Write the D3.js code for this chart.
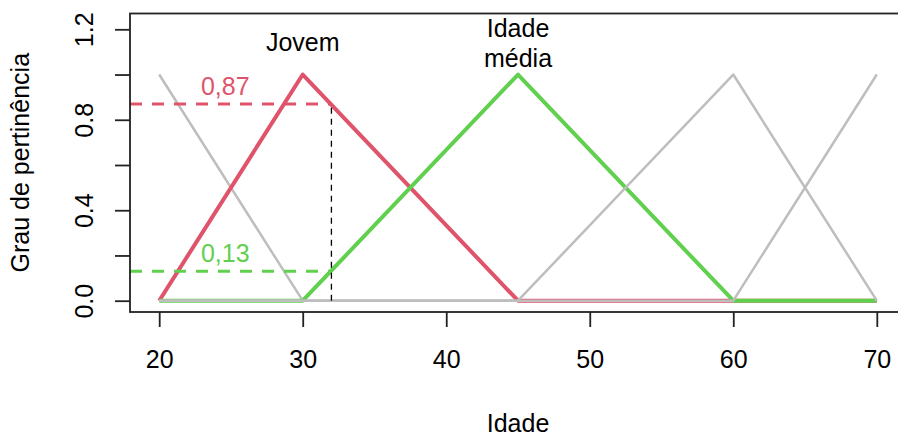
<!DOCTYPE html>
<html>
<head>
<meta charset="utf-8">
<script src="https://cdn.jsdelivr.net/npm/d3@7"></script>
<style>
  body { margin: 0; background: #fff; }
  svg { display: block; font-family: "Liberation Sans", Arial, sans-serif; }
</style>
</head>
<body>
<div id="chart"></div>
<script>
// membership functions sampled at the break points
const idade = [20, 30, 45, 60, 70];
const crianca = [1, 0, 0, 0, 0];
const jovem = [0, 1, 0, 0, 0];
const idadeMedia = [0, 0, 1, 0, 0];
const adulto = [0, 0, 0, 1, 0];
const idoso = [0, 0, 0, 0, 1];

const xTicks = [20, 30, 40, 50, 60, 70];
const yTicks = [0, 0.2, 0.4, 0.6, 0.8, 1.0, 1.2];
const yLabelTicks = [0, 0.4, 0.8, 1.2];

const idadeObservada = 32;
const grauJovem = 0.87;
const grauMedia = 0.13;

const WIDTH = 898;
const HEIGHT = 438;
const BOX_LEFT = 130;
const BOX_TOP = 13.5;
const BOX_BOTTOM = 312;
const BOX_RIGHT = 906;

const RED = '#DF536B';
const GREEN = '#61D04F';
const GRAY = '#BEBEBE';
const FONT_SIZE = 25;

const svg = d3.select('#chart').append('svg')
    .attr('width', WIDTH)
    .attr('height', HEIGHT);

const x = d3.scaleLinear()
    .domain([18, 72])
    .range([130.5, 905.5]);

const y = d3.scaleLinear()
    .domain([0, 1.2])
    .range([300.7, 29.3]);

svg.append('clipPath')
    .attr('id', 'plot-clip')
    .append('rect')
        .attr('x', BOX_LEFT)
        .attr('y', BOX_TOP)
        .attr('width', BOX_RIGHT - BOX_LEFT)
        .attr('height', BOX_BOTTOM - BOX_TOP);

const plot = svg.append('g').attr('clip-path', 'url(#plot-clip)');

const line = d3.line()
    .x(d => x(d[0]))
    .y(d => y(d[1]));

const series = [
    { values: crianca, color: GRAY, width: 2.5 },
    { values: jovem, color: RED, width: 4 },
    { values: idadeMedia, color: GREEN, width: 4 },
    { values: adulto, color: GRAY, width: 2.5 },
    { values: idoso, color: GRAY, width: 2.5 }
];

plot.selectAll('.serie')
    .data(series)
    .join('path')
        .attr('class', 'serie')
        .attr('fill', 'none')
        .attr('stroke', d => d.color)
        .attr('stroke-width', d => d.width)
        .attr('stroke-linejoin', 'round')
        .attr('d', d => line(idade.map((a, i) => [a, d.values[i]])));

// dashed guides for the observed age
const guides = [
    { value: grauJovem, color: RED, label: '0,87' },
    { value: grauMedia, color: GREEN, label: '0,13' }
];

plot.selectAll('.guide')
    .data(guides)
    .join('line')
        .attr('class', 'guide')
        .attr('x1', BOX_LEFT)
        .attr('x2', x(idadeObservada))
        .attr('y1', d => y(d.value))
        .attr('y2', d => y(d.value))
        .attr('stroke', d => d.color)
        .attr('stroke-width', 3)
        .attr('stroke-dasharray', '12,10');

plot.append('line')
    .attr('x1', x(idadeObservada))
    .attr('x2', x(idadeObservada))
    .attr('y1', y(0))
    .attr('y2', y(grauJovem))
    .attr('stroke', '#000')
    .attr('stroke-width', 1.3)
    .attr('stroke-dasharray', '6,5');

svg.selectAll('.guide-label')
    .data(guides)
    .join('text')
        .attr('class', 'guide-label')
        .attr('x', x(24.6))
        .attr('y', d => y(d.value) - 9)
        .attr('text-anchor', 'middle')
        .attr('font-size', FONT_SIZE)
        .attr('fill', d => d.color)
        .text(d => d.label);

// set names
const setLabels = [
    { x: 30, y: 1.104, lines: ['Jovem'] },
    { x: 45, y: 1.166, lines: ['Idade', 'média'] }
];

svg.selectAll('.set-label')
    .data(setLabels)
    .join('text')
        .attr('class', 'set-label')
        .attr('text-anchor', 'middle')
        .attr('font-size', FONT_SIZE)
        .attr('fill', '#000')
        .selectAll('tspan')
        .data(d => d.lines.map((t, i) => ({ t, i, d })))
        .join('tspan')
            .attr('x', e => x(e.d.x))
            .attr('y', e => y(e.d.y) + e.i * 30)
            .text(e => e.t);

// box
svg.append('rect')
    .attr('x', BOX_LEFT)
    .attr('y', BOX_TOP)
    .attr('width', BOX_RIGHT - BOX_LEFT)
    .attr('height', BOX_BOTTOM - BOX_TOP)
    .attr('fill', 'none')
    .attr('stroke', '#222')
    .attr('stroke-width', 1.8);

// axes
const xAxis = svg.append('g')
    .attr('transform', `translate(0,${BOX_BOTTOM})`)
    .call(d3.axisBottom(x).tickValues(xTicks).tickSize(15).tickSizeOuter(0));

xAxis.select('.domain')
    .attr('d', `M${x(20)},0H${x(70)}`)
    .attr('stroke', 'none');
xAxis.selectAll('line').attr('stroke', '#222').attr('stroke-width', 1.8);
xAxis.selectAll('text')
    .attr('dy', null)
    .attr('y', 56)
    .attr('font-size', FONT_SIZE)
    .attr('font-family', 'Liberation Sans, Arial, sans-serif')
    .attr('fill', '#000');

const yAxis = svg.append('g')
    .attr('transform', `translate(${BOX_LEFT},0)`)
    .call(d3.axisLeft(y)
        .tickValues(yTicks)
        .tickSize(15)
        .tickSizeOuter(0)
        .tickFormat(v => yLabelTicks.some(t => Math.abs(t - v) < 1e-9) ? d3.format('.1f')(v) : ''));

yAxis.select('.domain').remove();
yAxis.selectAll('line').attr('stroke', '#222').attr('stroke-width', 1.8);
yAxis.selectAll('text')
    .attr('dy', null)
    .attr('x', 0)
    .attr('y', -37)
    .attr('transform', 'rotate(-90)')
    .attr('text-anchor', 'middle')
    .attr('font-size', FONT_SIZE)
    .attr('font-family', 'Liberation Sans, Arial, sans-serif')
    .attr('fill', '#000');

// axis titles
svg.append('text')
    .attr('x', x(45))
    .attr('y', 432)
    .attr('text-anchor', 'middle')
    .attr('font-size', FONT_SIZE)
    .text('Idade');

svg.append('text')
    .attr('transform', `translate(29,${(BOX_TOP + BOX_BOTTOM) / 2}) rotate(-90)`)
    .attr('text-anchor', 'middle')
    .attr('font-size', FONT_SIZE)
    .text('Grau de pertinência');
</script>
</body>
</html>
